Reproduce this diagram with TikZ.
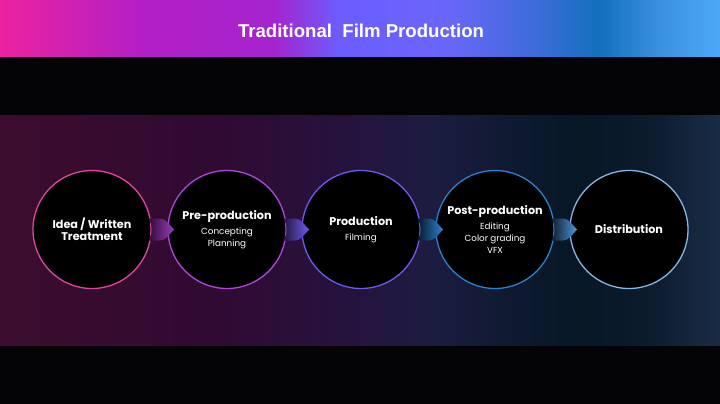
\documentclass[tikz,border=0pt]{standalone}
\usepackage{fontspec}
\setmainfont{Poppins}
\newfontfamily\titlefont{Liberation Sans}
\usetikzlibrary{calc}
\definecolor{bandblack}{HTML}{040305}
\definecolor{ring1}{HTML}{E0479C}
\definecolor{ring2}{HTML}{B048E0}
\definecolor{ring3}{HTML}{6E5AF0}
\definecolor{ring4}{HTML}{2A82D0}
\definecolor{ring5}{HTML}{86B8E6}
\definecolor{t0}{HTML}{EC22A0}
\definecolor{t1}{HTML}{B21FC6}
\definecolor{t2}{HTML}{A524CE}
\definecolor{t3}{HTML}{6C5CFF}
\definecolor{t4}{HTML}{6A66FA}
\definecolor{t5}{HTML}{3F6CDA}
\definecolor{t6}{HTML}{1270BE}
\definecolor{t7}{HTML}{3C92E2}
\definecolor{t8}{HTML}{4CA8F8}
\definecolor{m0}{HTML}{3C0C2E}
\definecolor{m1}{HTML}{300A32}
\definecolor{m2}{HTML}{24143F}
\definecolor{m3}{HTML}{1C1C40}
\definecolor{m4}{HTML}{0F1A32}
\definecolor{m5}{HTML}{071726}
\definecolor{m6}{HTML}{0C1B2D}
\definecolor{m7}{HTML}{1A2C46}
\pgfdeclarehorizontalshading{topband}{100bp}{color(0bp)=(t0); color(25bp)=(t0); color(35bp)=(t1); color(44bp)=(t2); color(48.5bp)=(t3); color(56bp)=(t4); color(62bp)=(t5); color(66.5bp)=(t6); color(71bp)=(t7); color(75bp)=(t8); color(100bp)=(t8)}
\pgfdeclarehorizontalshading{midband}{100bp}{color(0bp)=(m0); color(25bp)=(m0); color(40bp)=(m1); color(50bp)=(m2); color(55bp)=(m3); color(60bp)=(m4); color(65bp)=(m5); color(70bp)=(m6); color(75bp)=(m7); color(100bp)=(m7)}
\tikzset{
  stage/.style={circle, minimum size=118pt, inner sep=0pt, outer sep=0pt, fill=black, line width=1.3pt, text=white, align=center},
}
\newcommand\hdf{\fontsize{11.2}{13}\selectfont\bfseries}
\newcommand\sbf{\fontsize{8.8}{11.8}\selectfont}
\newcommand\chev[3]{\shade[left color=#2, right color=#3] ([shift={(-3,-11)}]#1.east) -- ++(12,0) .. controls +(6,0) and +(-5,-5) .. ++(14,11) .. controls +(-5,5) and +(6,0) .. ++(-14,11) -- ++(-12,0) .. controls +(5,-6) and +(5,6) .. cycle;}
\begin{document}
\begin{tikzpicture}[x=1pt,y=-1pt]
\useasboundingbox (0,0) rectangle (720,404);
\fill[bandblack] (0,0) rectangle (720,404);
\shade[shading=topband] (0,0) rectangle (720,57);
\shade[shading=midband] (0,115) rectangle (720,345);
\node[text=white, font=\titlefont\fontsize{18.6}{22}\selectfont\bfseries] (title) at (361,31) {Traditional\ \ Film Production};
\node[stage, draw=ring1] (c1) at (92,229.5) {\hdf Idea / Written\\\hdf Treatment};
\node[stage, draw=ring2] (c2) at (227,229.5) {\hdf Pre-production\\[3pt]\sbf Concepting\\\sbf Planning};
\node[stage, draw=ring3] (c3) at (361,229.5) {\hdf Production\\[3pt]\sbf Filming};
\node[stage, draw=ring4] (c4) at (495,229.5) {\hdf Post-production\\[3pt]\sbf Editing\\\sbf Color grading\\\sbf VFX};
\node[stage, draw=ring5] (c5) at (629,229.5) {\hdf Distribution};
\chev{c1}{m1}{ring2!85!black}
\chev{c2}{m2}{ring3}
\chev{c3}{m5}{ring4}
\chev{c4}{m6}{ring4!60!ring5}
\end{tikzpicture}
\end{document}
